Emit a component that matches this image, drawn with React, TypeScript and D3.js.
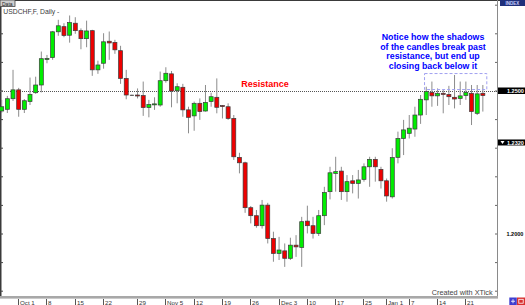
import React from "react";
import * as d3 from "d3";

const opens = [1.2430,1.2436,1.2473,1.2504,1.2436,1.2463,1.2494,1.2521,1.2610,1.2617,
1.2707,1.2725,1.2695,1.2737,1.2711,1.2683,1.2711,1.2574,1.2597,1.2674,
1.2670,1.2641,1.2544,1.2485,1.2486,1.2484,1.2442,1.2453,1.2451,1.2536,
1.2560,1.2501,1.2513,1.2434,1.2413,1.2457,1.2430,1.2463,1.2478,1.2449,
1.2445,1.2404,1.2268,1.2249,1.2092,1.2064,1.2029,1.2101,1.1984,1.1932,
1.1941,1.1915,1.1961,1.1953,1.2045,1.2029,1.2002,1.2064,1.2148,1.2212,
1.2220,1.2148,1.2186,1.2177,1.2191,1.2235,1.2261,1.2226,1.2186,1.2130,
1.2268,1.2334,1.2352,1.2367,1.2416,1.2469,1.2495,1.2483,1.2492,1.2488,
1.2478,1.2474,1.2484,1.2492,1.2422,1.2492];

const highs = [1.2469,1.2483,1.2574,1.2511,1.2472,1.2547,1.2550,1.2638,1.2626,1.2710,
1.2749,1.2737,1.2764,1.2758,1.2719,1.2746,1.2714,1.2606,1.2702,1.2708,
1.2679,1.2658,1.2574,1.2487,1.2509,1.2533,1.2469,1.2478,1.2568,1.2583,
1.2570,1.2527,1.2525,1.2445,1.2463,1.2474,1.2521,1.2494,1.2544,1.2451,
1.2457,1.2416,1.2284,1.2253,1.2098,1.2084,1.2119,1.2109,1.2008,1.1990,
1.1967,1.1987,1.1996,1.2060,1.2099,1.2060,1.2084,1.2165,1.2235,1.2270,
1.2235,1.2206,1.2206,1.2224,1.2247,1.2270,1.2270,1.2235,1.2194,1.2300,
1.2358,1.2399,1.2416,1.2445,1.2486,1.2515,1.2533,1.2509,1.2504,1.2518,
1.2556,1.2533,1.2533,1.2521,1.2521,1.2521];

const lows = [1.2423,1.2423,1.2465,1.2410,1.2423,1.2451,1.2490,1.2495,1.2597,1.2609,
1.2693,1.2688,1.2669,1.2700,1.2646,1.2653,1.2553,1.2560,1.2578,1.2609,
1.2630,1.2525,1.2471,1.2483,1.2474,1.2413,1.2408,1.2434,1.2445,1.2529,
1.2443,1.2457,1.2410,1.2352,1.2361,1.2399,1.2428,1.2445,1.2422,1.2404,
1.2399,1.2259,1.2212,1.2074,1.2037,1.2022,1.2019,1.1967,1.1903,1.1909,
1.1885,1.1909,1.1920,1.1885,1.2002,1.1984,1.1993,1.2031,1.2121,1.2148,
1.2119,1.2113,1.2142,1.2124,1.2183,1.2165,1.2183,1.2159,1.2113,1.2124,
1.2247,1.2276,1.2334,1.2340,1.2385,1.2416,1.2445,1.2448,1.2422,1.2451,
1.2439,1.2451,1.2469,1.2381,1.2416,1.2428];

const closes = [1.2445,1.2473,1.2504,1.2436,1.2466,1.2488,1.2521,1.2613,1.2614,1.2707,
1.2728,1.2694,1.2739,1.2711,1.2683,1.2710,1.2574,1.2591,1.2672,1.2668,
1.2644,1.2544,1.2486,1.2485,1.2483,1.2442,1.2453,1.2455,1.2536,1.2562,
1.2500,1.2515,1.2434,1.2408,1.2457,1.2428,1.2460,1.2480,1.2443,1.2446,
1.2404,1.2270,1.2249,1.2092,1.2064,1.2029,1.2101,1.1984,1.1932,1.1944,
1.1915,1.1961,1.1955,1.2043,1.2029,1.2002,1.2064,1.2145,1.2214,1.2218,
1.2148,1.2183,1.2177,1.2189,1.2235,1.2261,1.2235,1.2186,1.2133,1.2267,
1.2334,1.2364,1.2370,1.2416,1.2471,1.2498,1.2483,1.2492,1.2488,1.2480,
1.2472,1.2483,1.2495,1.2428,1.2490,1.2484];

const dateLabels = ["Oct 1","8","15","22","29","Nov 5","12","19","26","Dec 3","10","17","25","Jan 1","7","14","21"];
const dateLabelIdx = [3,8,13,18,24,29,34,39,44,49,54,59,64,68,72,77,82];

const resistance = 1.25;
const lastPrice = 1.232;
const axisLabel = 1.2;
const noteLines = ["Notice how the shadows","of the candles break past","resistance, but end up","closing back below it"];
const boxStartIdx = 74.7;
const boxEndIdx = 85.7;
const boxTop = 1.2561;
const boxBottom = 1.2505;

const W = 525, H = 305, PR = 497, PB = 296;
const FONT = "'Liberation Sans', Arial, sans-serif";

export default function App() {
  const x = d3.scaleLinear().domain([-0.3, 87.5]).range([0, PR]);
  const y = d3.scaleLinear().domain([1.18, 1.28]).range([291.2, 5.2]);
  const ticks = d3.range(0, 11).map((k) => 1.18 + k * 0.01);
  const idx = d3.range(opens.length);
  const bw = 4;

  return (
    <svg width={W} height={H} style={{ position: "absolute", left: 0, top: 0, background: "#fff" }} fontFamily={FONT}>
      <rect x={0} y={0} width={W} height={H} fill="#fff" />
      {/* frame */}
      <line x1={0} x2={W} y1={0.5} y2={0.5} stroke="#3a3a3a" strokeWidth={1.2} />
      <line x1={0.75} x2={0.75} y1={0} y2={PB} stroke="#3a3a3a" strokeWidth={1.5} />
      <line x1={PR + 0.5} x2={PR + 0.5} y1={0} y2={PB} stroke="#8a8a8a" strokeWidth={1} />
      <rect x={0} y={PB} width={PR + 1} height={2.6} fill="#a8a8a8" />
      {ticks.map((t, i) => (
        <g key={i}>
          <line x1={0} x2={3} y1={y(t)} y2={y(t)} stroke="#444" strokeWidth={1} />
          <line x1={PR - 2} x2={PR} y1={y(t)} y2={y(t)} stroke="#666" strokeWidth={1} />
        </g>
      ))}
      {/* resistance */}
      <line x1={0} x2={PR} y1={Math.round(y(resistance)) + 0.5} y2={Math.round(y(resistance)) + 0.5} stroke="#555" strokeWidth={1} strokeDasharray="1,1" />
      <text x={265} y={87} textAnchor="middle" fill="#ff0000" fontWeight="bold" fontSize={9}>Resistance</text>
      {/* candles */}
      {idx.map((i) => {
        const o = opens[i], c = closes[i];
        const cx = x(i);
        const top = y(Math.max(o, c));
        const h = Math.max(1, Math.abs(y(o) - y(c)));
        const up = c > o;
        const flat = c === o;
        return (
          <g key={i}>
            <line x1={cx} x2={cx} y1={y(highs[i])} y2={y(lows[i])} stroke="#8c8c8c" strokeWidth={1} />
            {flat ? (
              <line x1={cx - bw / 2} x2={cx + bw / 2} y1={top} y2={top} stroke="#444" strokeWidth={1} />
            ) : (
              <rect x={cx - bw / 2} y={top} width={bw} height={h} fill={up ? "#00ee00" : "#ee0000"} stroke="#3a3a3a" strokeWidth={0.7} />
            )}
          </g>
        );
      })}
      {/* annotation */}
      <rect x={x(boxStartIdx)} y={y(boxTop)} width={x(boxEndIdx) - x(boxStartIdx)} height={y(boxBottom) - y(boxTop)} fill="none" stroke="#a0a0f0" strokeWidth={1} strokeDasharray="3,2" />
      {noteLines.map((s, i) => (
        <text key={i} x={433} y={40 + i * 9.5} textAnchor="middle" fill="#0000ff" fontWeight="bold" fontSize={8.8}>{s}</text>
      ))}
      {/* title */}
      <rect x={0} y={0} width={15} height={6.5} fill="#cfcfcf" stroke="#444" strokeWidth={0.8} />
      <text x={2} y={5.6} fontSize={5} fill="#222">Data</text>
      <text x={3.3} y={14.2} fontSize={8} fill="#3a3a3a" textLength={56} lengthAdjust="spacingAndGlyphs">USDCHF,F, Daily -</text>
      {/* right side labels */}
      <rect x={500} y={0} width={25} height={6} fill="#1f2f7a" />
      <text x={512.5} y={5} fontSize={4.5} fill="#c8d0ff" textAnchor="middle" fontWeight="bold">INDEX</text>
      <rect x={498} y={y(resistance) - 3.5} width={27} height={6.5} fill="#000" />
      <text x={507} y={y(resistance) + 2} fontSize={5.5} fill="#fff" fontWeight="bold">{resistance.toFixed(4)}</text>
      <rect x={498} y={y(lastPrice) - 3} width={27} height={6} fill="#000" />
      <path d={`M500.5,${y(lastPrice) - 1.5} L504.5,${y(lastPrice) - 1.5} L502.5,${y(lastPrice) + 1.5} Z`} fill="#fff" />
      <text x={507} y={y(lastPrice) + 2.2} fontSize={5.5} fill="#fff" fontWeight="bold">{lastPrice.toFixed(4)}</text>
      <text x={506.5} y={y(axisLabel) + 2} fontSize={5.5} fill="#000" fontWeight="bold">{axisLabel.toFixed(4)}</text>
      {/* x labels */}
      {dateLabelIdx.map((k, i) => {
        const tx = Math.round(x(k) - 0.5) + 0.5;
        return (
          <g key={i}>
            <line x1={tx} x2={tx} y1={299} y2={305} stroke="#555" strokeWidth={1} />
            <text x={tx + 1.5} y={304.5} fontSize={6.2} fill="#333">{dateLabels[i]}</text>
          </g>
        );
      })}
      <text x={431.7} y={295.2} fontSize={7.3} fill="#444">Created with XTick</text>
      {/* corner icons */}
      <rect x={509.3} y={297.5} width={7.5} height={7.5} fill="#3f3fd0" />
      <path d="M511,301.25 H515 M513,299.2 V303.3" stroke="#fff" strokeWidth={0.8} />
      <rect x={517} y={297.5} width={8} height={7.5} fill="#d83030" />
      <rect x={518.8} y={299.3} width={4.4} height={3.9} fill="none" stroke="#fff" strokeWidth={0.8} />
    </svg>
  );
}
